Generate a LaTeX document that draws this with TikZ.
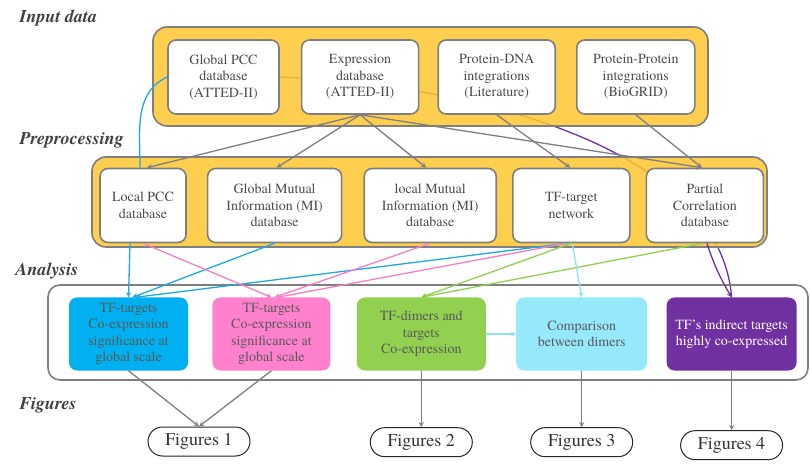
\documentclass[tikz,border=0pt]{standalone}
\usepackage{fontspec}
\setmainfont{texgyretermes}[
  Extension=.otf,
  UprightFont=*-regular,
  BoldFont=*-bold,
  ItalicFont=*-italic,
  BoldItalicFont=*-bolditalic]
\usetikzlibrary{positioning}

\pgfdeclarelayer{back}
\pgfdeclarelayer{mid}
\pgfsetlayers{back,mid,main}

\definecolor{boxgray}{RGB}{127,127,127}
\definecolor{gold}{RGB}{254,198,48}
\definecolor{tfblue}{RGB}{0,176,240}
\definecolor{tfpink}{RGB}{255,128,204}
\definecolor{tfgreen}{RGB}{146,208,80}
\definecolor{tfsky}{RGB}{150,232,252}
\definecolor{tfpurple}{RGB}{112,48,160}
\definecolor{lnblue}{RGB}{28,170,225}
\definecolor{lnpink}{RGB}{244,128,200}
\definecolor{lnsky}{RGB}{140,225,250}

\begin{document}
\begin{tikzpicture}[
      x=1pt, y=1pt,
      db/.style={
        draw=boxgray, line width=1.6pt, fill=white, rounded corners=8pt,
        align=center, inner sep=0pt, minimum height=74pt, text=black!70,
        font=\fontsize{14}{16.5}\selectfont
      },
      task/.style={
        rounded corners=8pt, align=center, inner sep=0pt, minimum height=73pt,
        text=black!65, font=\fontsize{14}{16.5}\selectfont
      },
      fig/.style={
        draw=black!85, line width=1pt, rounded corners=14.5pt, inner sep=0pt,
        minimum width=102pt, minimum height=29pt, text=black!80,
        font=\fontsize{18}{20}\selectfont
      },
      stage/.style={anchor=west, text=black!75,
        font=\fontsize{18}{20}\selectfont\bfseries\itshape},
      link/.style={->, line width=1.3pt},
      >=stealth
      ]

      \useasboundingbox (0,0) rectangle (810,463);

      % stage labels
      \node[stage] (s1) at (16,445) {Input data};
      \node[stage] (s2) at (16,323) {Preprocessing};
      \node[stage] (s3) at (12,192) {Analysis};
      \node[stage] (s4) at (16,58)  {Figures};

      % input data
      \node[db, minimum width=111pt] (i1) at (223.5,386) {Global PCC\\database\\(ATTED-II)};
      \node[db, minimum width=117pt, right=21pt of i1] (i2) {Expression\\database\\(ATTED-II)};
      \node[db, minimum width=117pt, right=18pt of i2] (i3) {Protein-DNA\\integrations\\(Literature)};
      \node[db, minimum width=118pt, right=20pt of i3] (i4) {Protein-Protein\\integrations\\(BioGRID)};

      % preprocessing
      \node[db, minimum width=86pt] (p1) at (143,257.5) {Local PCC\\database};
      \node[db, minimum width=134pt, right=20pt of p1] (p2) {Global Mutual\\Information (MI)\\database};
      \node[db, minimum width=132pt, right=21pt of p2] (p3) {local Mutual\\Information (MI)\\database};
      \node[db, minimum width=117pt, right=15pt of p3] (p4) {TF-target\\network};
      \node[db, minimum width=117pt, right=15pt of p4] (p5) {Partial\\Correlation\\database};

      % analysis
      \node[task, fill=tfblue, minimum width=119pt] (a1) at (128.5,129) {TF-targets\\Co-expression\\significance at\\global scale};
      \node[task, fill=tfpink, minimum width=118pt, right=24pt of a1] (a2) {TF-targets\\Co-expression\\significance at\\global scale};
      \node[task, fill=tfgreen, minimum width=129pt, right=26pt of a2] (a3) {TF-dimers and\\targets\\Co-expression};
      \node[task, fill=tfsky, minimum width=131pt, right=30pt of a3] (a4) {Comparison\\between dimers};
      \node[task, fill=tfpurple, text=white, minimum width=130pt, right=19pt of a4] (a5) {TF’s indirect targets\\highly co-expressed};

      % figures
      \node[fig] (f1) at (199,21.5) {Figures 1};
      \node[fig, below=56.5pt of a3] (f2) {Figures 2};
      \node[fig, below=56.5pt of a4] (f3) {Figures 3};
      \node[fig, below=59.5pt of a5] (f4) {Figures 4};

      % boxes and the lines behind them
      \begin{pgfonlayer}{back}
        \fill[white] (0,0) rectangle (810,463);
        \draw[tfpurple, line width=1.3pt] (i1.east) .. controls (480,378) and (720,313) .. (a5.north);
      \end{pgfonlayer}
      \begin{pgfonlayer}{mid}
        \draw[boxgray, line width=1.6pt, fill=gold, fill opacity=0.85, rounded corners=14pt]
          (153,337) rectangle (708,436);
        \draw[boxgray, line width=1.6pt, fill=gold, fill opacity=0.85, rounded corners=14pt]
          (92,216) rectangle (767,306);
        \draw[boxgray, line width=1.6pt, rounded corners=12pt] (48,83) rectangle (808,178);
        \draw[lnblue, line width=1.3pt] (i1.west) to[out=205, in=90] ([xshift=-3pt]p1.north);
      \end{pgfonlayer}

  % Connect the nodes
 \draw[link, boxgray] (i2.south) -- ([xshift=4pt]p1.north);
 \draw[link, boxgray] (i2.south) -- ([xshift=2pt]p2.north);
 \draw[link, boxgray] (i2.south) -- ([xshift=-4pt]p3.north);
 \draw[link, boxgray] (i2.south) -- ([xshift=-3pt]p5.north);
 \draw[link, boxgray] (i3.south) -- ([xshift=-1pt]p4.north);
 \draw[link, boxgray] (i4.south) -- ([xshift=-3pt]p5.north);

 \draw[link, lnblue] ([xshift=-13pt]p1.south) -- (a1.north);
 \draw[link, lnblue] (p2.south) -- ([xshift=4pt]a1.north);
 \draw[link, lnblue] ([xshift=-4pt]p4.south) -- ([xshift=7pt]a1.north);
 \draw[link, lnpink] (p1.south) -- (a2.north);
 \draw[link, lnpink] (p3.south) -- ([xshift=3pt]a2.north);
 \draw[link, lnpink] ([xshift=-5pt]p4.south) -- ([xshift=6pt]a2.north);
 \draw[link, tfgreen] (p4.south) -- (a3.north);
 \draw[link, tfgreen] ([xshift=-2pt]p5.south) -- (a3.north);
 \draw[link, lnsky] ([xshift=1pt]p4.south) -- (a4.north);
 \draw[link, lnsky] (a3.east) -- (a4.west);
 \draw[link, tfpurple] ([xshift=2pt]p5.south) to[bend right=6] (a5.north);

 \draw[link, boxgray] (a1.south) -- (f1.north);
 \draw[link, boxgray] (a2.south) -- (f1.north);
 \draw[link, boxgray] (a3.south) -- (f2.north);
 \draw[link, boxgray] (a4.south) -- (f3.north);
 \draw[link, boxgray] (a5.south) -- (f4.north);

\end{tikzpicture}
\end{document}
